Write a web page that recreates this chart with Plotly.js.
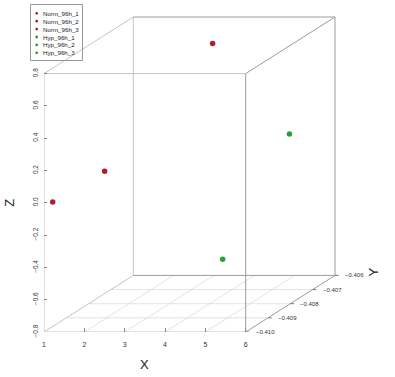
<!DOCTYPE html>
<html>
<head>
<meta charset="utf-8">
<script src="https://cdn.plot.ly/plotly-3.0.1.min.js"></script>
<style>html,body{margin:0;padding:0;background:#fff;}#chart{width:395px;height:377px;}</style>
</head>
<body>
<div id="chart"></div>
<script>
// ---------------- data ----------------
const samples = ['Norm_96h_1','Norm_96h_2','Norm_96h_3','Hyp_96h_1','Hyp_96h_2','Hyp_96h_3'];
const groups  = ['Norm','Norm','Norm','Hyp','Hyp','Hyp'];
const xVals   = [1, 2, 3, 4, 5, 6];
const yVals   = [-0.40961, -0.40909, -0.40606, -0.40742, null, -0.40804];
const zVals   = [-0.029, 0.115, 0.641, -0.576, null, 0.254];

const xTicks = [1, 2, 3, 4, 5, 6];
const yTicks = [-0.410, -0.409, -0.408, -0.407, -0.406];
const yTickText = ['\u22120.410','\u22120.409','\u22120.408','\u22120.407','\u22120.406'];
const zTicks = [-0.8, -0.6, -0.4, -0.2, 0.0, 0.2, 0.4, 0.6, 0.8];
const zTickText = ['\u22120.8','\u22120.6','\u22120.4','\u22120.2','0.0','0.2','0.4','0.6','0.8'];

// ---------------- styling / projection constants ----------------
const groupColor = {Norm: '#B01E32', Hyp: '#2E9E3A'};
const W = 395, H = 377;
const M = {l: 44, r: 0, t: 0, b: 45};
const pxPerX = 40.34, pxPerZ = 161.5;          // front-face scale
const depthPx = [89.3, -56.6];                   // screen offset of the back face
const xMin = 1, xMax = 6, yMin = -0.410, yMax = -0.406, zMin = -0.8, zMax = 0.8;
const DX = depthPx[0] / pxPerX, DZ = -depthPx[1] / pxPerZ;

function proj(x, y, z) {
  if (x == null || y == null || z == null) return [null, null];
  const d = (y - yMin) / (yMax - yMin);
  return [x + d * DX, z + d * DZ];
}
const plotW = W - M.l - M.r, plotH = H - M.t - M.b;
const xRange = [xMin, xMin + plotW / pxPerX];
const yRange = [zMin, zMin + plotH / pxPerZ];
const paperX = px => (px - M.l) / plotW;
const paperY = py => (H - M.b - py) / plotH;

function segTrace(segs, color, width) {
  const xs = [], ys = [];
  segs.forEach(s => {
    const a = proj(...s[0]), b = proj(...s[1]);
    xs.push(a[0], b[0], null); ys.push(a[1], b[1], null);
  });
  return {type: 'scatter', mode: 'lines', x: xs, y: ys, hoverinfo: 'skip', showlegend: false,
          line: {color: color, width: width}};
}

// floor grid
const gridSegs = [];
xTicks.slice(1, -1).forEach(x => gridSegs.push([[x, yMin, zMin], [x, yMax, zMin]]));
yTicks.slice(1, -1).forEach(y => gridSegs.push([[xMin, y, zMin], [xMax, y, zMin]]));

// box edges
const lightEdges = [
  [[xMin, yMin, zMin], [xMax, yMin, zMin]],
  [[xMin, yMin, zMin], [xMin, yMin, zMax]],
  [[xMin, yMax, zMin], [xMin, yMax, zMax]],
  [[xMin, yMin, zMax], [xMin, yMax, zMax]],
  [[xMin, yMin, zMin], [xMin, yMax, zMin]],
  [[xMin, yMin, zMax], [xMax, yMin, zMax]]
];
const darkEdges = [
  [[xMax, yMin, zMin], [xMax, yMin, zMax]],
  [[xMin, yMax, zMax], [xMax, yMax, zMax]],
  [[xMax, yMax, zMin], [xMax, yMax, zMax]],
  [[xMin, yMax, zMin], [xMax, yMax, zMin]],
  [[xMax, yMin, zMax], [xMax, yMax, zMax]],
  [[xMax, yMin, zMin], [xMax, yMax, zMin]]
];
const yTickSegs = yTicks.map(y => [[xMax, y, zMin], [xMax + 0.09, y, zMin]]);

const traces = [
  segTrace(gridSegs, '#dcdcdc', 0.8),
  segTrace(lightEdges, '#c4c4c4', 1),
  segTrace(darkEdges, '#9c9c9c', 1),
  segTrace(yTickSegs, '#777', 1)
];

['Norm', 'Hyp'].forEach(g => {
  const xs = [], ys = [], names = [];
  samples.forEach((s, i) => {
    if (groups[i] !== g) return;
    const p = proj(xVals[i], yVals[i], zVals[i]);
    xs.push(p[0]); ys.push(p[1]); names.push(s);
  });
  traces.push({type: 'scatter', mode: 'markers', x: xs, y: ys, text: names, name: g,
               hoverinfo: 'text', showlegend: false,
               marker: {color: groupColor[g], size: 5.5, line: {width: 0}}});
});

const font = 'Liberation Sans, Arial, Helvetica, sans-serif';
const annotations = [];
yTicks.forEach((y, i) => {
  const p = proj(xMax, y, zMin);
  annotations.push({x: p[0], y: p[1], xref: 'x', yref: 'y', text: yTickText[i], showarrow: false,
    xanchor: 'left', yanchor: 'middle', xshift: 8, font: {family: font, size: 6, color: '#333'}});
});
const xt = proj((xMin + xMax) / 2, yMin, zMin);
annotations.push({x: xt[0], y: xt[1], xref: 'x', yref: 'y', text: 'X', showarrow: false,
  xanchor: 'center', yanchor: 'middle', yshift: -32, font: {family: font, size: 13, color: '#222'}});
const zt = proj(xMin, yMin, (zMin + zMax) / 2);
annotations.push({x: zt[0], y: zt[1], xref: 'x', yref: 'y', text: 'Z', showarrow: false, textangle: -90,
  xanchor: 'center', yanchor: 'middle', xshift: -34, font: {family: font, size: 13, color: '#222'}});
const yt = proj(xMax, yMax, zMin);
annotations.push({x: yt[0], y: yt[1], xref: 'x', yref: 'y', text: 'Y', showarrow: false, textangle: -90,
  xanchor: 'center', yanchor: 'middle', xshift: 38, yshift: 3, font: {family: font, size: 13, color: '#222'}});

// legend (drawn by hand to match the compact R legend)
const shapes = [{type: 'rect', xref: 'paper', yref: 'paper', x0: paperX(30.5), x1: paperX(82.5),
  y0: paperY(60.5), y1: paperY(4.5), line: {color: '#999', width: 1}, fillcolor: 'rgba(0,0,0,0)'}];
samples.forEach((s, i) => {
  const py = 13.3 + i * 7.9;
  shapes.push({type: 'circle', xref: 'paper', yref: 'paper', xsizemode: 'pixel', ysizemode: 'pixel',
    xanchor: paperX(36.7), yanchor: paperY(py), x0: -1.4, x1: 1.4, y0: -1.4, y1: 1.4,
    fillcolor: groupColor[groups[i]], line: {width: 0}});
  annotations.push({x: paperX(40.5), y: paperY(py), xref: 'paper', yref: 'paper', text: s, showarrow: false,
    xanchor: 'left', yanchor: 'middle', font: {family: font, size: 6.2, color: '#222'}});
});

const layout = {
  width: W, height: H, margin: M, paper_bgcolor: '#fff', plot_bgcolor: 'rgba(0,0,0,0)',
  showlegend: false,
  xaxis: {range: xRange, tickvals: xTicks, ticktext: xTicks.map(String), ticks: 'inside', ticklen: 4,
          tickcolor: '#888', tickwidth: 1, showgrid: false, zeroline: false, showline: false,
          ticklabelstandoff: 7, tickfont: {family: font, size: 7, color: '#333'}, fixedrange: true},
  yaxis: {range: yRange, tickvals: zTicks, ticktext: zTickText, ticks: 'inside', ticklen: 3,
          tickcolor: '#888', tickwidth: 1, showgrid: false, zeroline: false, showline: false,
          tickangle: -90, ticklabelstandoff: 4, tickfont: {family: font, size: 6.5, color: '#333'}, fixedrange: true},
  shapes: shapes,
  annotations: annotations
};

Plotly.newPlot('chart', traces, layout, {displayModeBar: false, staticPlot: true});
</script>
</body>
</html>
